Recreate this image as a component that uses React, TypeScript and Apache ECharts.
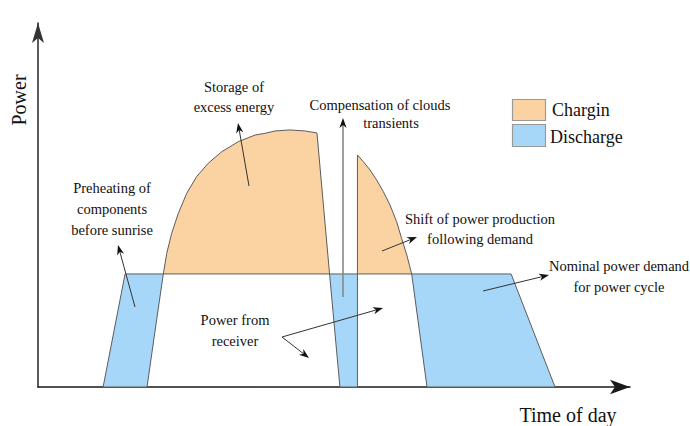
import React, { useEffect, useRef } from "react";
import * as echarts from "echarts";

// x: time of day [h], y: thermal power [% of nominal power-cycle demand]
const chargingMorning: number[][] = [
  [5.08, 100], [5.22, 118.3], [5.42, 136.0], [5.69, 153.7], [6.03, 171.4], [6.43, 186.1],
  [6.9, 197.9], [7.45, 208.2], [8.12, 217.0], [8.8, 222.9], [9.2, 224.4], [9.61, 226.5],
  [10.22, 227.4], [10.82, 226.5], [11.31, 224.7], [11.82, 100],
];
const chargingAfternoon: number[][] = [
  [12.95, 100], [12.95, 205.3], [13.19, 199.3], [13.46, 192.0], [13.73, 183.1], [14.0, 172.8],
  [14.27, 161.0], [14.54, 146.2], [14.74, 131.5], [14.95, 116.8], [15.15, 100],
];
const dischargePreheat: number[][] = [[2.64, 0], [3.53, 100], [5.08, 100], [4.75, 50.4], [4.42, 0]];
const dischargeCloud: number[][] = [[11.82, 100], [12.95, 100], [12.95, 0], [12.24, 0]];
const dischargeEvening: number[][] = [[15.15, 100], [19.18, 100], [20.96, 0], [15.77, 0]];

const chargingShapes = [chargingMorning, chargingAfternoon];
const dischargeShapes = [dischargePreheat, dischargeCloud, dischargeEvening];

const ORANGE = "#FBD3A3";
const BLUE = "#A6D7F8";
const SERIF = '"Liberation Serif", "Times New Roman", serif';

function arrow(x1: number, y1: number, x2: number, y2: number, color = "#333", lw = 1): any[] {
  const dx = x2 - x1, dy = y2 - y1;
  const len = Math.hypot(dx, dy);
  const ux = dx / len, uy = dy / len;
  const nx = -uy, ny = ux;
  const L = 10, W = 3.6;
  const bx = x2 - ux * L, by = y2 - uy * L;
  const mx = x2 - ux * L * 0.7, my = y2 - uy * L * 0.7;
  return [
    { type: "line", z: 100, shape: { x1, y1, x2: mx, y2: my }, style: { stroke: color, lineWidth: lw } },
    {
      type: "polygon", z: 101,
      shape: { points: [[x2, y2], [bx + nx * W, by + ny * W], [mx, my], [bx - nx * W, by - ny * W]] },
      style: { fill: "#111" },
    },
  ];
}

function label(text: string, x: number, y: number, size = 14.5, lh = 21, align = "center"): any {
  return {
    type: "text", z: 100, x, y,
    style: { text, fontSize: size, fontFamily: SERIF, fill: "#111", align, verticalAlign: "middle", lineHeight: lh },
  };
}

function polySeries(name: string, shapes: number[][][], fill: string): any {
  return {
    type: "custom",
    name,
    coordinateSystem: "cartesian2d",
    data: shapes.map((s, i) => [s[0][0], s[0][1], i]),
    renderItem: (params: any, api: any) => {
      const pts = shapes[params.dataIndex].map((p) => api.coord(p));
      return {
        type: "polygon",
        shape: { points: pts },
        style: { fill, stroke: "#5c5c5c", lineWidth: 1 },
      };
    },
  };
}

export default function App() {
  const ref = useRef<HTMLDivElement>(null);
  useEffect(() => {
    if (!ref.current) return;
    const chart = echarts.init(ref.current, null, { renderer: "svg" });
    const axisCommon = {
      type: "value",
      axisTick: { show: false },
      axisLabel: { show: false },
      splitLine: { show: false },
    };
    chart.setOption({
      animation: false,
      backgroundColor: "#fff",
      grid: { left: 38, top: 23, width: 592, height: 364 },
      xAxis: {
        ...axisCommon, min: 0, max: 24,
        axisLine: { show: true, onZero: false, symbol: ["none", "arrow"], symbolSize: [11, 20], lineStyle: { color: "#1a1a1a", width: 1.6 } },
      },
      yAxis: {
        ...axisCommon, min: 0, max: 322,
        axisLine: { show: true, onZero: false, symbol: ["none", "arrow"], symbolSize: [9, 20], lineStyle: { color: "#333", width: 1.6 } },
      },
      series: [polySeries("Chargin", chargingShapes, ORANGE), polySeries("Discharge", dischargeShapes, BLUE)],
      graphic: [
        { type: "text", z: 100, x: 19, y: 100, rotation: Math.PI / 2, style: { text: "Power", fontSize: 20, fontFamily: SERIF, fill: "#111", align: "center", verticalAlign: "middle" } },
        label("Time of day", 568, 415, 20),
        label("Storage of\nexcess energy", 234, 97, 14.5, 20),
        label("Compensation of clouds", 380, 105, 14.5),
        label("transients", 391, 123, 14.5),
        label("Preheating of\ncomponents\nbefore sunrise", 112, 209, 14.5, 21),
        label("Power from\nreceiver", 235, 330.5, 14.5, 21),
        label("Shift of power production\nfollowing demand", 480, 229, 14.5, 20),
        label("Nominal power demand\nfor power cycle", 619, 276.5, 14.5, 21),
        { type: "rect", z: 100, shape: { x: 512.5, y: 99.5, width: 33, height: 21 }, style: { fill: ORANGE, stroke: "#999", lineWidth: 1.2 } },
        { type: "rect", z: 100, shape: { x: 512.5, y: 124.5, width: 33, height: 22 }, style: { fill: BLUE, stroke: "#999", lineWidth: 1.2 } },
        label("Chargin", 552, 110, 18, 20, "left"),
        label("Discharge", 550, 137, 18, 20, "left"),
        ...arrow(249, 186, 238, 123),
        ...arrow(135, 307, 118, 245),
        ...arrow(282, 337, 309, 358),
        ...arrow(282, 337, 383, 308),
        ...arrow(382, 251, 417, 237),
        ...arrow(483, 291, 549, 275),
        ...arrow(343, 297, 343, 118, "#888", 1.6),
      ],
    });
    return () => chart.dispose();
  }, []);
  return <div ref={ref} style={{ position: "fixed", left: 0, top: 0, width: 690, height: 426 }} />;
}
